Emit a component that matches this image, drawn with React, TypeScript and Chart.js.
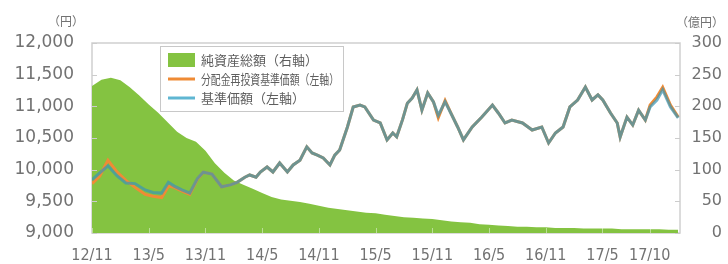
import React, { useEffect, useRef } from "react";
import { Chart, registerables } from "chart.js";

Chart.register(...registerables);

// ---- data (months counted from 2012/11) ----
const xTickMonths = [0, 6, 12, 18, 24, 30, 36, 42, 48, 54, 59];
const xTickLabels = ["12/11", "13/5", "13/11", "14/5", "14/11", "15/5", "15/11", "16/5", "16/11", "17/5", "17/10"];

const seriesLabels = ["純資産総額（右軸）", "分配金再投資基準価額（左軸）", "基準価額（左軸）"];
const leftUnit = "（円）";
const rightUnit = "（億円）";

const navMonths = [
  0, 0.82, 1.69, 2.66, 3.58, 4.55, 5.63, 6.45, 7.37, 8.08, 8.7, 9.52, 10.34, 11.15, 11.77, 12.69, 13.71, 14.63, 15.35, 16.17,
  16.68, 17.35, 17.81, 18.52, 19.14, 19.85, 20.67, 21.28, 22.0, 22.72, 23.28, 23.84, 24.46, 25.17, 25.68, 26.2, 27.02, 27.63,
  28.35, 28.86, 29.78, 30.49, 31.21, 31.82, 32.23, 32.85, 33.36, 33.87, 34.38, 34.9, 35.51, 36.12, 36.63, 37.35, 38.07, 38.68,
  39.29, 40.22, 41.24, 42.36, 42.98, 43.69, 44.41, 45.54, 46.56, 47.58, 48.3, 49.02, 49.83, 50.55, 51.37, 52.19, 52.9, 53.52,
  54.03, 54.85, 55.56, 55.87, 56.59, 57.2, 57.82, 58.53, 59.04, 59.76, 60.37, 61.19, 62.01,
];
const navValues = [
  9840, 9950, 10060, 9900, 9790, 9780, 9680, 9640, 9630, 9800, 9740, 9680, 9630, 9860, 9960, 9930, 9730, 9760, 9800, 9880,
  9916, 9880, 9963, 10042, 9963, 10105, 9963, 10074, 10150, 10360, 10263, 10230, 10185, 10074, 10230, 10310, 10674, 10990,
  11020, 10990, 10784, 10737, 10469, 10579, 10520, 10790, 11050, 11130, 11260, 10940, 11210, 11070, 10860, 11070, 10860, 10674,
  10469, 10674, 10830, 11020, 10895, 10737, 10784, 10737, 10626, 10674, 10421, 10579, 10674, 10990, 11100, 11305, 11100, 11180,
  11100, 10895, 10737, 10516, 10830, 10705, 10940, 10784, 10990, 11100, 11260, 10990, 10816,
];
const reinvestValues = [
  9780, 9900, 10150, 9960, 9830, 9720, 9610, 9580, 9560, 9740, 9720, 9660, 9610, 9850, 9960, 9930, 9730, 9760, 9800, 9880,
  9916, 9880, 9963, 10042, 9963, 10105, 9963, 10074, 10150, 10360, 10263, 10230, 10185, 10074, 10230, 10310, 10674, 10990,
  11020, 10990, 10784, 10737, 10469, 10579, 10520, 10790, 11050, 11130, 11260, 10940, 11210, 11070, 10820, 11090, 10860, 10674,
  10469, 10674, 10830, 11020, 10895, 10737, 10784, 10737, 10626, 10674, 10421, 10579, 10674, 10990, 11100, 11305, 11100, 11180,
  11100, 10895, 10737, 10516, 10830, 10705, 10940, 10784, 11020, 11150, 11300, 11020, 10830,
];

const assetMonths = [
  0, 1, 2, 3, 4, 5, 6, 7, 8, 9, 10, 11, 12, 13, 14, 15, 16, 17, 18, 19, 20, 21, 22, 23, 24, 25, 26, 27, 28, 29, 30,
  31, 32, 33, 34, 35, 36, 37, 38, 39, 40, 41, 42, 43, 44, 45, 46, 47, 48, 49, 50, 51, 52, 53, 54, 55, 56, 57, 58, 59, 60, 61, 62,
];
const assetValues = [
  232, 242, 245, 241, 230, 217, 203, 190, 175, 160, 150, 144, 130, 110, 95, 83, 76, 70, 63, 57, 53, 51, 49, 46, 43, 40, 38,
  36, 34, 32, 31, 29, 27, 25, 24, 23, 22, 20, 18, 17, 16, 14, 13, 12, 11, 10, 10, 9, 9, 8, 8, 8, 7, 7, 7, 7, 6, 6, 6, 6, 6, 5, 5,
];

const GREEN = "#84c341";
const ORANGE = "#ef8b35";
const BLUE = "rgba(60,150,180,0.72)";
const TEXT = "#727272";
const CJK = "'Noto Sans CJK JP', 'Noto Sans', sans-serif";

const decorPlugin = {
  id: "decor",
  beforeDatasetsDraw(chart: any) {
    const { ctx, chartArea: a } = chart;
    ctx.save();
    ctx.strokeStyle = "#d0d0d0";
    ctx.lineWidth = 1.5;
    ctx.strokeRect(a.left, a.top, a.right - a.left, a.bottom - a.top);
    ctx.restore();
  },
  afterDatasetsDraw(chart: any) {
    const { ctx, chartArea: a, scales } = chart;
    ctx.save();
    ctx.strokeStyle = "#cccccc";
    ctx.lineWidth = 1;
    scales.y.ticks.forEach((t: any) => {
      const y = Math.round(scales.y.getPixelForValue(t.value)) + 0.5;
      ctx.beginPath();
      ctx.moveTo(a.left, y);
      ctx.lineTo(a.left + 5, y);
      ctx.stroke();
    });
    scales.y1.ticks.forEach((t: any) => {
      const y = Math.round(scales.y1.getPixelForValue(t.value)) + 0.5;
      ctx.beginPath();
      ctx.moveTo(a.right - 5, y);
      ctx.lineTo(a.right, y);
      ctx.stroke();
    });
    ctx.strokeStyle = "rgba(255,255,255,0.45)";
    scales.x.ticks.forEach((t: any) => {
      const x = Math.round(scales.x.getPixelForValue(t.value)) + 0.5;
      ctx.beginPath();
      ctx.moveTo(x, a.bottom);
      ctx.lineTo(x, a.bottom - 5);
      ctx.stroke();
    });

    ctx.fillStyle = TEXT;
    ctx.font = `12px ${CJK}`;
    ctx.textBaseline = "middle";
    ctx.textAlign = "right";
    ctx.fillText(leftUnit, a.left - 8, 21);
    ctx.textAlign = "left";
    ctx.fillText(rightUnit, a.right - 4, 22);

    const bx = a.left + 68;
    const by = a.top + 3;
    const bw = 183;
    const bh = 65;
    ctx.fillStyle = "#ffffff";
    ctx.fillRect(bx, by, bw, bh);
    ctx.strokeStyle = "#c8c8c8";
    ctx.lineWidth = 1;
    ctx.strokeRect(bx + 0.5, by + 0.5, bw, bh);
    const ds = chart.data.datasets;
    const rows = [14, 33, 52];
    const order = [2, 1, 0];
    order.forEach((di: number, i: number) => {
      const d = ds[di];
      const cy = by + rows[i];
      if (i === 0) {
        ctx.fillStyle = d.backgroundColor;
        ctx.fillRect(bx + 8, cy - 7, 27, 14);
      } else {
        ctx.strokeStyle = i === 1 ? ORANGE : "#5fb6d2";
        ctx.lineWidth = 3;
        ctx.beginPath();
        ctx.moveTo(bx + 8, cy);
        ctx.lineTo(bx + 35, cy);
        ctx.stroke();
      }
      ctx.fillStyle = "#5e5e5e";
      ctx.font = `13px ${CJK}`;
      ctx.textAlign = "left";
      ctx.textBaseline = "middle";
      ctx.fillText(d.label, bx + 41, cy, 138);
    });
    ctx.restore();
  },
};

export default function App() {
  const ref = useRef<HTMLCanvasElement | null>(null);

  useEffect(() => {
    document.body.style.margin = "0";
    if (!ref.current) return;
    const chart = new Chart(ref.current, {
      type: "line",
      data: {
        datasets: [
          {
            label: seriesLabels[2],
            data: navMonths.map((m, i) => ({ x: m, y: navValues[i] })),
            borderColor: BLUE,
            borderWidth: 3,
            pointRadius: 0,
            tension: 0,
            yAxisID: "y",
            order: 0,
          },
          {
            label: seriesLabels[1],
            data: navMonths.map((m, i) => ({ x: m, y: reinvestValues[i] })),
            borderColor: ORANGE,
            borderWidth: 3,
            pointRadius: 0,
            tension: 0,
            yAxisID: "y",
            order: 1,
          },
          {
            label: seriesLabels[0],
            data: assetMonths.map((m, i) => ({ x: m, y: assetValues[i] })),
            borderColor: GREEN,
            backgroundColor: GREEN,
            borderWidth: 0,
            pointRadius: 0,
            tension: 0,
            fill: "origin",
            yAxisID: "y1",
            order: 2,
          },
        ],
      },
      options: {
        responsive: false,
        animation: false,
        devicePixelRatio: 1,
        layout: { padding: { top: 43, right: 6, left: 0, bottom: 0 } },
        plugins: { legend: { display: false }, tooltip: { enabled: false } },
        scales: {
          x: {
            type: "linear",
            min: 0,
            max: 62.2,
            grid: { display: false },
            border: { display: false },
            afterBuildTicks: (s: any) => {
              s.ticks = xTickMonths.map((v) => ({ value: v }));
            },
            afterFit: (s: any) => {
              s.height = 31;
            },
            ticks: {
              autoSkip: false,
              maxRotation: 0,
              padding: 5,
              color: TEXT,
              font: { family: "'Liberation Sans Narrow', 'DejaVu Sans Condensed', sans-serif", size: 16 },
              callback: (_v: any, i: number) => xTickLabels[i],
            },
          },
          y: {
            position: "left",
            min: 9000,
            max: 12000,
            grid: { display: false },
            border: { display: false },
            afterFit: (s: any) => {
              s.width = 92;
            },
            ticks: {
              stepSize: 500,
              padding: 10,
              color: TEXT,
              font: { family: "'DejaVu Sans', sans-serif", size: 17 },
              callback: (v: any) => Number(v).toLocaleString("en-US"),
            },
          },
          y1: {
            position: "right",
            min: 0,
            max: 300,
            grid: { display: false },
            border: { display: false },
            afterFit: (s: any) => {
              s.width = 42;
            },
            ticks: {
              stepSize: 50,
              crossAlign: "far",
              color: TEXT,
              font: { family: "'DejaVu Sans', sans-serif", size: 16 },
            },
          },
        },
      },
      plugins: [decorPlugin],
    } as any);
    return () => chart.destroy();
  }, []);

  return (
    <div style={{ width: 728, height: 264, position: "relative", background: "#fff" }}>
      <canvas ref={ref} width={728} height={264} />
    </div>
  );
}
